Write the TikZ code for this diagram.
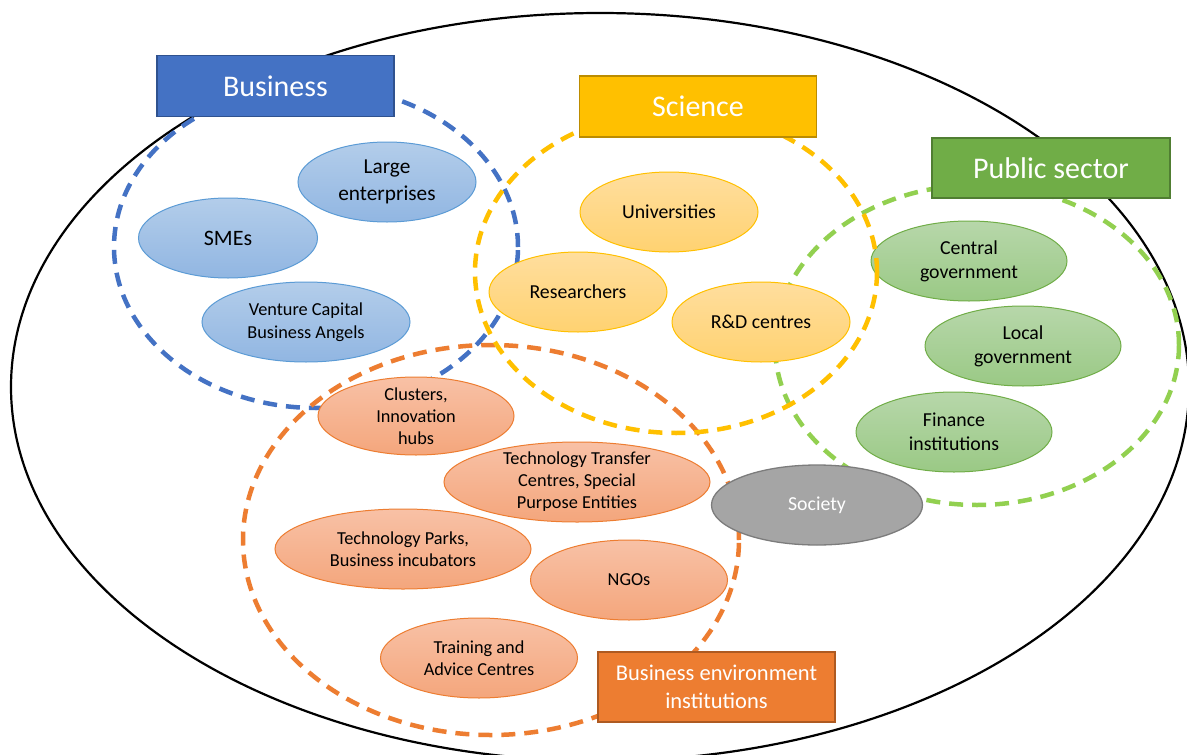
\documentclass[tikz,border=0pt]{standalone}
\usepackage{fontspec}
\setmainfont{Carlito}
\usetikzlibrary{shapes.geometric}
\definecolor{bizblue}{HTML}{4472C4}
\definecolor{bizbd}{HTML}{2F528F}
\definecolor{sciyel}{HTML}{FFC000}
\definecolor{scibd}{HTML}{BC8C00}
\definecolor{pubgreen}{HTML}{70AD47}
\definecolor{pubbd}{HTML}{507E32}
\definecolor{envor}{HTML}{ED7D31}
\definecolor{envbd}{HTML}{AE5A21}
\definecolor{ringgreen}{HTML}{92D050}
\definecolor{btop}{HTML}{B3CDEA}
\definecolor{bbot}{HTML}{91B6E2}
\definecolor{bbd}{HTML}{5B9BD5}
\definecolor{ytop}{HTML}{FFDE9E}
\definecolor{ybot}{HTML}{FFD271}
\definecolor{gtop}{HTML}{B7D7AA}
\definecolor{gbot}{HTML}{9AC985}
\definecolor{otop}{HTML}{F8C1A6}
\definecolor{obot}{HTML}{F4A67C}
\definecolor{socfill}{HTML}{A5A5A5}
\definecolor{socbd}{HTML}{7C7C7C}
\begin{document}
\begin{tikzpicture}[x=1pt,y=-1pt,
  ring/.style={ellipse, inner sep=0pt, line width=4.5pt, dash pattern=on 14pt off 9pt},
  item/.style={ellipse, inner xsep=0pt, inner ysep=-15pt, align=center, line width=1pt, text=black,
    minimum height=80pt, font=\fontsize{19.8}{24}\selectfont},
  bluei/.style={item, draw=bbd, top color=btop, bottom color=bbot},
  yeli/.style={item, draw=sciyel, top color=ytop, bottom color=ybot},
  greeni/.style={item, draw=pubgreen, top color=gtop, bottom color=gbot},
  orangei/.style={item, draw=envor, top color=otop, bottom color=obot, font=\fontsize{18.3}{22}\selectfont},
  titlebox/.style={rectangle, inner sep=0pt, line width=1.3pt, text=white, align=center,
    minimum width=237pt, minimum height=61pt, font=\fontsize{30}{36}\selectfont}
]
\useasboundingbox (0,0) rectangle (1187,755);
\clip (0,0) rectangle (1187,755);
\fill[white] (0,0) rectangle (1187,755);
% outer ellipse
\node[ellipse, draw=black, line width=2.2pt, inner sep=0pt, minimum width=1178pt, minimum height=748pt] (world) at (600,387) {};
% rings
\node[ring, draw=bizblue, minimum width=404pt, minimum height=322pt] (bizring) at (316,247) {};
\node[ring, draw=envor, minimum width=496pt, minimum height=390pt] (envring) at (491,540) {};
\node[ring, draw=ringgreen, minimum width=404pt, minimum height=320pt] (pubring) at (977,345) {};
% business items
\node[bluei, minimum width=178pt, font=\fontsize{21.3}{26.5}\selectfont] (large) at (387,182) {Large\\enterprises};
\node[bluei, minimum width=179pt, font=\fontsize{22}{26}\selectfont] (smes) at (228,238) {SMEs};
\node[bluei, minimum width=208pt, font=\fontsize{18.3}{23}\selectfont] (vc) at (306,322) {Venture Capital\\Business Angels};
% science items
\node[yeli, minimum width=178pt] (univ) at (669,212) {Universities};
\node[yeli, minimum width=178pt] (res) at (578,292) {Researchers};
\node[yeli, minimum width=178pt] (rd) at (761,322) {R\&D centres};
% public items
\node[greeni, minimum width=196pt] (cgov) at (969,261) {Central\\government};
\node[greeni, minimum width=196pt] (lgov) at (1023,346) {Local\\government};
\node[greeni, minimum width=196pt] (fin) at (954,432) {Finance\\institutions};
% business environment items
\node[orangei, minimum width=196pt, minimum height=78pt] (clus) at (416,416) {Clusters,\\Innovation\\hubs};
\node[orangei, minimum width=266pt] (ttc) at (577,482) {Technology Transfer\\Centres, Special\\Purpose Entities};
\node[orangei, minimum width=256pt] (parks) at (403,549) {Technology Parks,\\Business incubators};
\node[orangei, minimum width=197pt] (ngo) at (629,580) {NGOs};
\node[orangei, minimum width=197pt] (train) at (479,658) {Training and\\Advice Centres};
% society
\node[item, draw=socbd, fill=socfill, text=white, minimum width=211pt, line width=1.3pt] (soc) at (817,505) {Society};
% science ring on top of the green items
\node[ring, draw=sciyel, minimum width=402pt, minimum height=322pt] (sciring) at (676,272) {};
% title boxes
\node[titlebox, fill=bizblue, draw=bizbd] (business) at (275.5,86) {Business};
\node[titlebox, fill=sciyel, draw=scibd] (science) at (698,106.5) {Science};
\node[titlebox, fill=pubgreen, draw=pubbd, minimum width=238pt, minimum height=60pt] (public) at (1051,168) {Public sector};
\node[titlebox, fill=envor, draw=envbd, minimum height=70pt, font=\fontsize{22.5}{28}\selectfont] (env) at (716.5,687) {Business environment\\institutions};
\end{tikzpicture}
\end{document}
